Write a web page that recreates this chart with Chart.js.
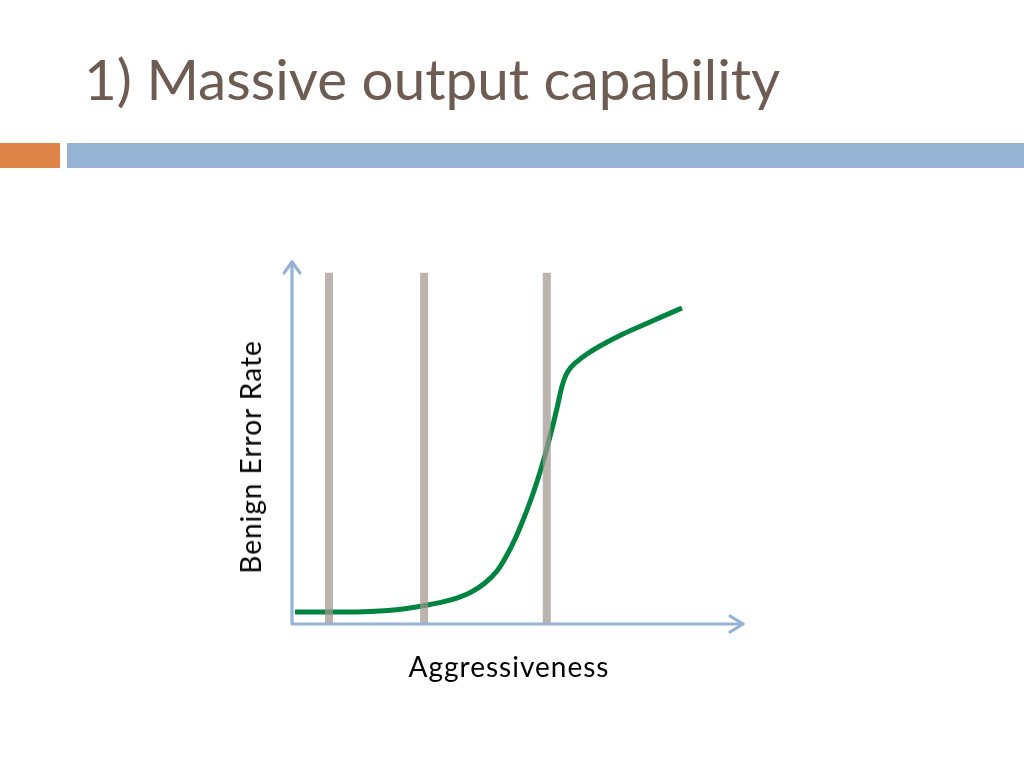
<!DOCTYPE html>
<html>
<head>
<meta charset="utf-8">
<script src="https://cdn.jsdelivr.net/npm/chart.js@4"></script>
<style>
  html, body { margin:0; padding:0; background:#fff; width:1024px; height:768px; overflow:hidden; }
  #title { position:absolute; left:84px; top:50px; font-family:'Lato', sans-serif; font-weight:400; font-size:56.6px; color:#6E5C52; white-space:nowrap; line-height:1; }
  #orange { position:absolute; left:0; top:143px; width:60px; height:25px; background:#DF8448; }
  #blue { position:absolute; left:67px; top:143px; width:957px; height:25px; background:#95B3D3; }
  #wrap { position:absolute; left:0; top:0; width:1024px; height:768px; }
  .axlab { position:absolute; font-family:'Lato', sans-serif; font-size:28px; letter-spacing:1px; color:#000; white-space:nowrap; line-height:1; }
  #xlab { left:509px; top:652px; transform:translateX(-50%); }
  #ylab { left:250px; top:457px; transform:translate(-50%,-50%) rotate(-90deg); }
</style>
</head>
<body>
<div id="title">1) Massive output capability</div>
<div id="orange"></div>
<div id="blue"></div>
<div id="wrap"><canvas id="c" width="1024" height="768"></canvas></div>
<div class="axlab" id="xlab">Aggressiveness</div>
<div class="axlab" id="ylab">Benign Error Rate</div>
<script>
// ---- data ----
const curveX = [0.67, 9.98, 17.29, 24.61, 30.60, 35.03, 39.47, 42.79, 45.45, 47.67, 49.45, 51.22, 52.77, 54.32, 55.88, 57.43, 58.76, 59.87, 60.75, 61.64, 63.19, 65.41, 68.29, 73.39, 79.38, 86.47];
const curveY = [3.31, 3.31, 3.45, 4.14, 5.39, 6.60, 8.65, 11.33, 14.64, 19.06, 23.48, 28.67, 33.70, 39.31, 45.69, 52.85, 59.64, 65.72, 68.78, 70.58, 72.51, 74.59, 76.80, 80.11, 83.43, 87.29];
const thresholdX = [8.2, 29.3, 56.5];
const thresholdTop = 97;

const curvePts = curveX.map((x, i) => ({x: x, y: curveY[i]}));
const barSets = thresholdX.map(x => ({
  type: 'line',
  data: [{x: x, y: 0}, {x: x, y: thresholdTop}],
  borderColor: 'rgba(160,150,143,0.72)',
  borderWidth: 8,
  borderCapStyle: 'butt',
  pointRadius: 0,
  order: 0
}));

const axisPlugin = {
  id: 'arrowAxes',
  afterDatasetsDraw(chart) {
    const {ctx, chartArea: a} = chart;
    ctx.save();
    ctx.strokeStyle = '#95B3D7';
    ctx.lineWidth = 3.2;
    ctx.lineCap = 'round';
    ctx.lineJoin = 'round';
    ctx.beginPath();
    ctx.moveTo(a.left, a.top);
    ctx.lineTo(a.left, a.bottom);
    ctx.lineTo(a.right, a.bottom);
    ctx.stroke();
    ctx.beginPath();
    ctx.moveTo(a.left - 8, a.top + 11);
    ctx.lineTo(a.left, a.top);
    ctx.lineTo(a.left + 8, a.top + 11);
    ctx.stroke();
    ctx.beginPath();
    ctx.moveTo(a.right - 13, a.bottom - 8);
    ctx.lineTo(a.right, a.bottom);
    ctx.lineTo(a.right - 13, a.bottom + 8);
    ctx.stroke();
    ctx.restore();
  }
};

new Chart(document.getElementById('c'), {
  type: 'line',
  data: {
    datasets: [
      {
        data: curvePts,
        borderColor: '#00843F',
        borderWidth: 5,
        pointRadius: 0,
        cubicInterpolationMode: 'monotone',
        borderCapStyle: 'butt',
        order: 1
      },
      ...barSets
    ]
  },
  options: {
    responsive: false,
    animation: false,
    layout: { padding: { left: 292, right: 281, top: 262, bottom: 144 } },
    plugins: { legend: { display: false }, tooltip: { enabled: false } },
    scales: {
      x: { type: 'linear', min: 0, max: 100, display: false },
      y: { type: 'linear', min: 0, max: 100, display: false }
    }
  },
  plugins: [axisPlugin]
});
</script>
</body>
</html>
